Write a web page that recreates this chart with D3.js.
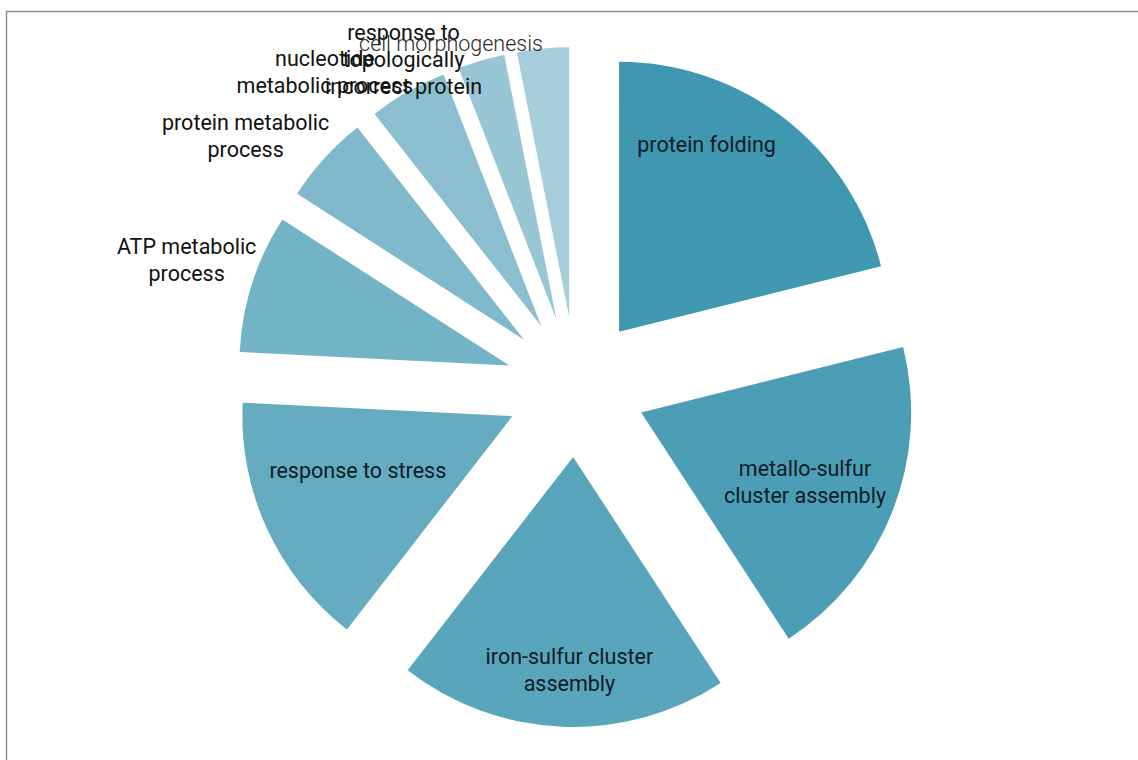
<!DOCTYPE html>
<html>
<head>
<meta charset="utf-8">
<script src="https://cdn.jsdelivr.net/npm/d3@7/dist/d3.min.js"></script>
<style>
  html, body { margin: 0; padding: 0; background: #fff; }
  svg { display: block; }
  text { font-family: Roboto, "Noto Sans", sans-serif; }
</style>
</head>
<body>
<svg id="chart" width="1138" height="760"></svg>
<script>
// GO biological process terms and their share of the annotated set (%)
const categories = [
  "protein folding",
  "metallo-sulfur cluster assembly",
  "iron-sulfur cluster assembly",
  "response to stress",
  "ATP metabolic process",
  "protein metabolic process",
  "nucleotide metabolic process",
  "response to topologically incorrect protein",
  "cell morphogenesis"
];
const values = [21.1, 19.7, 19.7, 15.3, 8.3, 5.3, 4.7, 2.8, 3.1];

// How each label is broken into lines
const labelLines = [
  ["protein folding"],
  ["metallo-sulfur", "cluster assembly"],
  ["iron-sulfur cluster", "assembly"],
  ["response to stress"],
  ["ATP metabolic", "process"],
  ["protein metabolic", "process"],
  ["nucleotide", "metabolic process"],
  ["response to", "topologically", "incorrect protein"],
  ["cell morphogenesis"]
];

const colors = ["#4097b0", "#4c9eb6", "#59a5bb", "#66acc1", "#73b3c6",
                "#7fb9cb", "#8bbfd0", "#98c6d5", "#a5cdda"];

// ---- layout ----
const W = 1138, H = 760;
const cx = 576, cy = 387;
const radius = 270;
const explode = 70;
const fontSize = 21.5;
const lineH = 27;
// labels inside the big wedges: [angle in degrees, distance from wedge tip]
const insidePlacement = {
  0: [25, 207],
  1: [113, 178],
  2: [181, 213],
  3: [250.5, 164]
};
// labels outside the small wedges: right edge of the text block,
// [angle in degrees, distance from pie centre]
const outsidePlacement = {
  4: [291.7, 344],
  5: [315.5, 352],
  6: [332.7, 355],
  7: [344, 341],
  8: [354.5, 345]
};

const svg = d3.select("#chart");

// frame
svg.append("path")
  .attr("d", `M${W + 2},11.5 H6.5 V${H + 2}`)
  .attr("fill", "none")
  .attr("stroke", "#8f8f8f")
  .attr("stroke-width", 1.5);

const pie = d3.pie().sort(null).value(d => d);
const arcs = pie(values);
const arc = d3.arc().innerRadius(0).outerRadius(radius);

const g = svg.append("g").attr("transform", `translate(${cx},${cy})`);

const polar = (angle, r) => [Math.sin(angle) * r, -Math.cos(angle) * r];
const rad = deg => deg * Math.PI / 180;

const slices = g.selectAll("g.slice")
  .data(arcs)
  .join("g")
  .attr("class", "slice")
  .attr("transform", d => {
    const mid = (d.startAngle + d.endAngle) / 2;
    const [x, y] = polar(mid, explode);
    return `translate(${x},${y})`;
  });

slices.append("path")
  .attr("d", arc)
  .attr("fill", (d, i) => colors[i]);

// inside labels
arcs.forEach((d, i) => {
  if (!(i in insidePlacement)) return;
  const mid = (d.startAngle + d.endAngle) / 2;
  const [ox, oy] = polar(mid, explode);
  const [deg, dist] = insidePlacement[i];
  const [lx, ly] = polar(rad(deg), dist);
  const lines = labelLines[i];
  const t = g.append("text")
    .attr("text-anchor", "middle")
    .attr("fill", "#0e1c26")
    .attr("font-size", fontSize);
  lines.forEach((ln, k) => {
    t.append("tspan")
      .attr("x", ox + lx)
      .attr("y", oy + ly + (k - (lines.length - 1) / 2) * lineH)
      .attr("dy", "0.35em")
      .text(ln);
  });
});

// outside labels: lines centred on each other, block right-aligned
arcs.forEach((d, i) => {
  if (!(i in outsidePlacement)) return;
  const [deg, dist] = outsidePlacement[i];
  const [ax, ay] = polar(rad(deg), dist);
  const lines = labelLines[i];
  const light = i === categories.length - 1;
  const t = g.append("text")
    .attr("text-anchor", "middle")
    .attr("fill", light ? "#2a2a2a" : "#111")
    .attr("font-weight", light ? 300 : 400)
    .attr("font-size", fontSize);
  const spans = lines.map((ln, k) =>
    t.append("tspan")
      .attr("y", ay + (k - (lines.length - 1) / 2) * lineH)
      .attr("dy", "0.35em")
      .text(ln));
  const maxW = d3.max(spans, s => s.node().getComputedTextLength());
  spans.forEach(s => s.attr("x", ax - maxW / 2));
});
</script>
</body>
</html>
